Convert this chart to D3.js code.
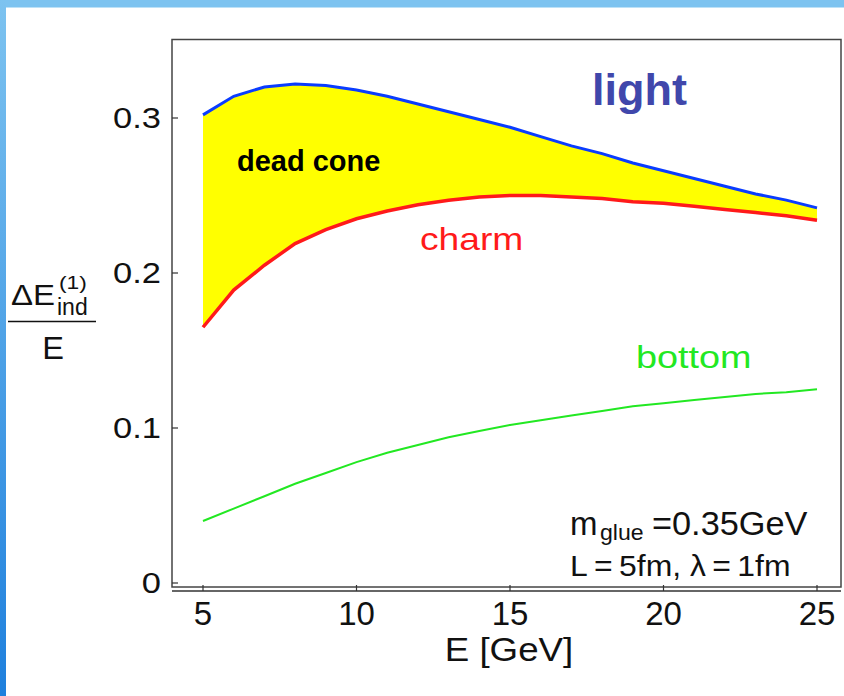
<!DOCTYPE html>
<html>
<head>
<meta charset="utf-8">
<script src="https://cdn.jsdelivr.net/npm/d3@7"></script>
<style>
  body { margin: 0; background: #fff; }
  svg text { font-family: "Liberation Sans", Arial, sans-serif; }
</style>
</head>
<body>
<div id="chart"></div>
<script>
// data
var energy = [5, 6, 7, 8, 9, 10, 11, 12, 13, 14, 15, 16, 17, 18, 19, 20, 21, 22, 23, 24, 25];
var light  = [0.302, 0.314, 0.320, 0.322, 0.321, 0.318, 0.314, 0.309, 0.304, 0.299, 0.294,
              0.288, 0.282, 0.277, 0.271, 0.266, 0.261, 0.256, 0.251, 0.247, 0.242];
var charm  = [0.165, 0.189, 0.205, 0.219, 0.228, 0.235, 0.240, 0.244, 0.247, 0.249, 0.250,
              0.250, 0.249, 0.248, 0.246, 0.245, 0.243, 0.241, 0.239, 0.237, 0.234];
var bottom = [0.040, 0.048, 0.056, 0.064, 0.071, 0.078, 0.084, 0.089, 0.094, 0.098, 0.102,
              0.105, 0.108, 0.111, 0.114, 0.116, 0.118, 0.120, 0.122, 0.123, 0.125];
var xTicks = [5, 10, 15, 20, 25];
var yTicks = [0, 0.1, 0.2, 0.3];

var W = 844, H = 696;
var svg = d3.select("#chart").append("svg")
    .attr("width", W)
    .attr("height", H);

// slide border: light band on top, gradient band on the left
var grad = svg.append("defs").append("linearGradient")
    .attr("id", "side").attr("x1", 0).attr("y1", 0).attr("x2", 0).attr("y2", 1);
grad.append("stop").attr("offset", "0%").attr("stop-color", "#7dc3f0");
grad.append("stop").attr("offset", "100%").attr("stop-color", "#1f80dd");
svg.append("rect").attr("x", 0).attr("y", 0).attr("width", W).attr("height", 7.5).attr("fill", "#7dc3f0");
svg.append("rect").attr("x", 0).attr("y", 0).attr("width", 6).attr("height", H).attr("fill", "url(#side)");

// text helper: the slide's lettering is a bit wider than the font, so stretch in x
function txt(g, x, y, s, size, sx, anchor) {
  return g.append("text")
      .attr("transform", "translate(" + x + "," + y + ") scale(" + sx + ",1)")
      .attr("font-size", size)
      .attr("text-anchor", anchor || "start")
      .text(s);
}

// frame box
var box = {left: 172, right: 841, top: 39.5, bottom: 587};

var x = d3.scaleLinear().domain([5, 25]).range([203, 817]);
var y = d3.scaleLinear().domain([0, 0.3]).range([583, 118]);

var rows = energy.map(function(e, i) {
  return {e: e, light: light[i], charm: charm[i], bottom: bottom[i]};
});

// yellow dead-cone area between light and charm
svg.append("path")
    .datum(rows)
    .attr("fill", "#ffff00")
    .attr("d", d3.area()
      .x(function(d) { return x(d.e); })
      .y0(function(d) { return y(d.charm); })
      .y1(function(d) { return y(d.light); }));

function curve(key, color, w) {
  svg.append("path")
      .datum(rows)
      .attr("fill", "none")
      .attr("stroke", color)
      .attr("stroke-width", w)
      .attr("d", d3.line()
        .x(function(d) { return x(d.e); })
        .y(function(d) { return y(d[key]); }));
}
curve("light", "#0a3cff", 3);
curve("charm", "#ff1a1a", 3.5);
curve("bottom", "#22e822", 2);

svg.append("rect")
    .attr("x", box.left).attr("y", box.top)
    .attr("width", box.right - box.left).attr("height", box.bottom - box.top)
    .attr("fill", "none").attr("stroke", "#444").attr("stroke-width", 1.5);

// x axis line a little below the box
svg.append("line")
    .attr("x1", box.left).attr("x2", box.right)
    .attr("y1", 591).attr("y2", 591)
    .attr("stroke", "#333").attr("stroke-width", 1.5);

svg.selectAll(".xt").data(xTicks).enter().append("line")
    .attr("x1", function(d) { return x(d); }).attr("x2", function(d) { return x(d); })
    .attr("y1", 591).attr("y2", 585)
    .attr("stroke", "#333").attr("stroke-width", 1.2);

var lab = svg.append("g").attr("fill", "#111");
xTicks.forEach(function(d) {
  txt(lab, x(d), 625, d, 33, 1.0, "middle");
});

svg.selectAll(".yt").data(yTicks).enter().append("line")
    .attr("x1", box.left).attr("x2", box.left + 6)
    .attr("y1", function(d) { return y(d); }).attr("y2", function(d) { return y(d); })
    .attr("stroke", "#333").attr("stroke-width", 1.2);
yTicks.forEach(function(d) {
  txt(lab, 161, y(d) + 10, d === 0 ? "0" : d3.format(".1f")(d), 30, 1.15, "end");
});

txt(lab, 509, 661, "E [GeV]", 34, 1.08, "middle");

// y label as a fraction
txt(lab, 11, 305, "ΔE", 30, 1.1);
txt(lab, 59, 289, "(1)", 19, 1.2);
txt(lab, 57, 315, "ind", 23, 1.0);
lab.append("line").attr("x1", 8).attr("x2", 96).attr("y1", 321.5).attr("y2", 321.5)
    .attr("stroke", "#111").attr("stroke-width", 1.5);
txt(lab, 53, 359, "E", 31, 1.05, "middle");

// curve labels
svg.append("text").attr("x", 592).attr("y", 105).attr("font-size", 45)
    .attr("font-weight", "bold").attr("fill", "#4047ab").text("light");
svg.append("text").attr("x", 237).attr("y", 171).attr("font-size", 29)
    .attr("font-weight", "bold").attr("fill", "#000").text("dead cone");
txt(svg, 420, 250, "charm", 31, 1.2).attr("fill", "#ff1a1a");
txt(svg, 636, 368, "bottom", 31, 1.22).attr("fill", "#22e822");

// parameters
txt(lab, 570, 535, "m", 33, 1.0);
txt(lab, 600, 540, "glue", 22, 1.05);
txt(lab, 652, 535, "=0.35GeV", 33, 1.04);
txt(lab, 570, 576, "L\u2009=\u20095fm, λ\u2009=\u20091fm", 29, 1.1);
</script>
</body>
</html>
